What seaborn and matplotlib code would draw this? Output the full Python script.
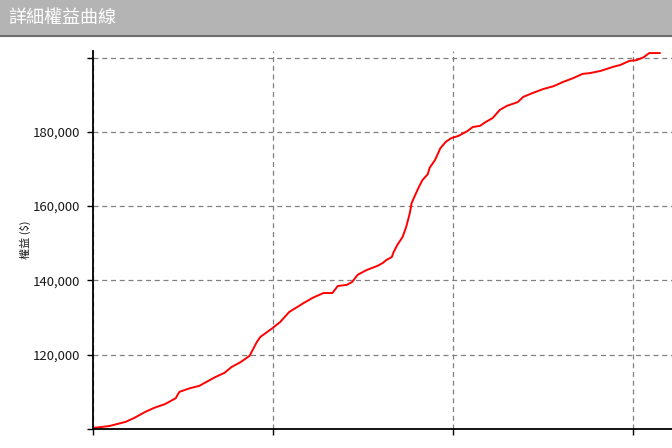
import matplotlib
matplotlib.use("Agg")
import matplotlib.pyplot as plt
import seaborn as sns
import pandas as pd
from matplotlib.patches import Rectangle
from matplotlib.ticker import FuncFormatter

# trade number vs. equity
trades = [0, 4, 9, 18, 23, 29, 34, 40, 46, 47, 48, 54, 59, 62, 68, 73, 77, 82, 87, 91,
          93, 99, 104, 109, 117, 122, 128, 133, 136, 141, 144, 147, 152, 158, 161, 163,
          166, 167, 169, 172, 174, 176, 177, 179, 181, 183, 186, 187, 190, 193, 196, 199,
          203, 208, 211, 215, 218, 222, 226, 230, 236, 239, 244, 250, 256, 261, 267, 272,
          276, 282, 289, 293, 298, 302, 306, 309, 315]
equity = [100300, 100500, 100800, 101900, 103000, 104600, 105700, 106700, 108300, 109200,
          110000, 111000, 111600, 112400, 114000, 115100, 116700, 118000, 119700, 123400,
          124800, 126900, 128800, 131500, 133900, 135300, 136600, 136600, 138500, 138800,
          139600, 141500, 142800, 143900, 144700, 145500, 146300, 147600, 149500, 151700,
          154400, 158100, 160800, 163000, 165100, 167000, 168600, 170300, 172400, 175600,
          177300, 178300, 178900, 180200, 181300, 181600, 182600, 183700, 185900, 187000,
          188000, 189400, 190400, 191500, 192300, 193400, 194500, 195600, 195800, 196400,
          197500, 198000, 199100, 199300, 200100, 201200, 201200]

y_ticks = [100000, 120000, 140000, 160000, 180000, 200000]
y_labeled = [120000, 140000, 160000, 180000]
x_ticks = [0, 100, 200, 300]

title = "詳細權益曲線"
y_label = "權益 ($)"

sns.set_theme(style="white")
plt.rcParams["font.family"] = ["Noto Sans CJK TC", "DejaVu Sans"]

fig = plt.figure(figsize=(6.72, 4.48), dpi=100)
ax = fig.add_axes([93 / 672, 19 / 448, 1 - 93 / 672, (429 - 51) / 448])

df = pd.DataFrame({"trade": trades, "equity": equity})
sns.lineplot(data=df, x="trade", y="equity", ax=ax, color="#ff0000", lw=1.4,
             estimator=None)

ax.set_xlim(0, (672 - 93) / 1.8)
ax.set_ylim(100000, 100000 + 378 * 269.2)
ax.set_xticks(x_ticks)
ax.set_yticks(y_ticks)
ax.xaxis.set_major_formatter(FuncFormatter(lambda v, p: ""))
ax.yaxis.set_major_formatter(
    FuncFormatter(lambda v, p: f"{int(v):,}" if int(v) in y_labeled else ""))
ax.set_xlabel("")
ax.set_ylabel("")

ax.grid(True, color="#808080", linestyle=(0, (4, 3)), linewidth=0.9)
for side in ["top", "right"]:
    ax.spines[side].set_visible(False)
for side in ["left", "bottom"]:
    ax.spines[side].set_color("black")
    ax.spines[side].set_linewidth(1.3)
ax.tick_params(axis="both", direction="out", length=4, width=1, color="black",
               left=True, bottom=True, pad=5)
ax.tick_params(axis="y", labelsize=9.5, labelcolor="#1a1a1a")

# title bar
fig.patches.append(Rectangle((0, 1 - 36 / 448), 1, 36 / 448, transform=fig.transFigure,
                             facecolor="#b4b4b4", edgecolor="none", zorder=0))
fig.lines.append(plt.Line2D([0, 1], [1 - 36.5 / 448] * 2, transform=fig.transFigure,
                            color="#6e6e6e", lw=1.5))
fig.text(8 / 672, 1 - 18 / 448, title, color="white", fontsize=13, va="center", ha="left")
fig.text(25 / 672, 1 - 240 / 448, y_label, rotation=90, fontsize=8, color="#1a1a1a",
         va="center", ha="center")

fig.savefig("out.png", dpi=100)
